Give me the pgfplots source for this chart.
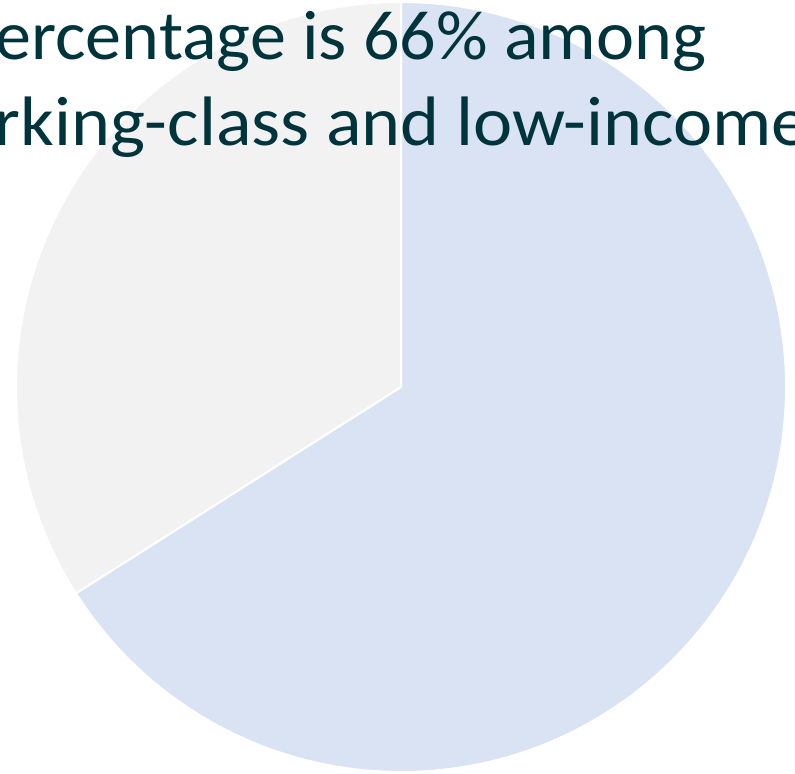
\documentclass[border=0pt]{standalone}
\usepackage{fontspec}
\setmainfont{Carlito}
\usepackage{pgfplots}
\usepackage{pgfplotstable}
\pgfplotsset{compat=1.18}

\definecolor{sliceblue}{HTML}{DAE3F3}
\definecolor{slicegray}{HTML}{F2F2F2}
\definecolor{titleteal}{HTML}{00343D}

\pgfplotstableread{
label value
Yes 66
No 34
}\piedata

% slice angles, clockwise from the top
\pgfplotstablegetelem{0}{value}\of\piedata
\pgfmathsetmacro\angA{90-3.6*\pgfplotsretval}
\pgfplotstablegetelem{1}{value}\of\piedata
\pgfmathsetmacro\angB{\angA-3.6*\pgfplotsretval}

\begin{document}
\begin{tikzpicture}
\useasboundingbox (0,0) rectangle (397.5pt,386.5pt);
\clip (0,0) rectangle (397.5pt,386.5pt);
\begin{axis}[
  at={(0,0)}, anchor=south west,
  width=397.5pt, height=386.5pt, scale only axis,
  xmin=0, xmax=795, ymin=0, ymax=773,
  hide axis, clip=false,
]
  \fill[sliceblue, draw=white, line width=1pt]
    (axis cs:401,386) -- (axis cs:401,771)
    arc[start angle=90, end angle=\angA, radius=192.5pt] -- cycle;
  \fill[slicegray, draw=white, line width=1pt]
    (axis cs:401,386) -- (axis cs:{401+385*cos(\angA)},{386+385*sin(\angA)})
    arc[start angle=\angA, end angle=\angB, radius=192.5pt] -- cycle;
  \node[anchor=base west, inner sep=0pt, text=titleteal, xscale=1.03,
        font=\fontsize{35}{43.5}\selectfont] at (axis cs:-5,713)
    {\llap{p}ercentage is 66\% among};
  \node[anchor=base west, inner sep=0pt, text=titleteal, xscale=1.06,
        font=\fontsize{35}{43.5}\selectfont] at (axis cs:-6,628)
    {\llap{wo}rking-class and low-income};
\end{axis}
\end{tikzpicture}
\end{document}
